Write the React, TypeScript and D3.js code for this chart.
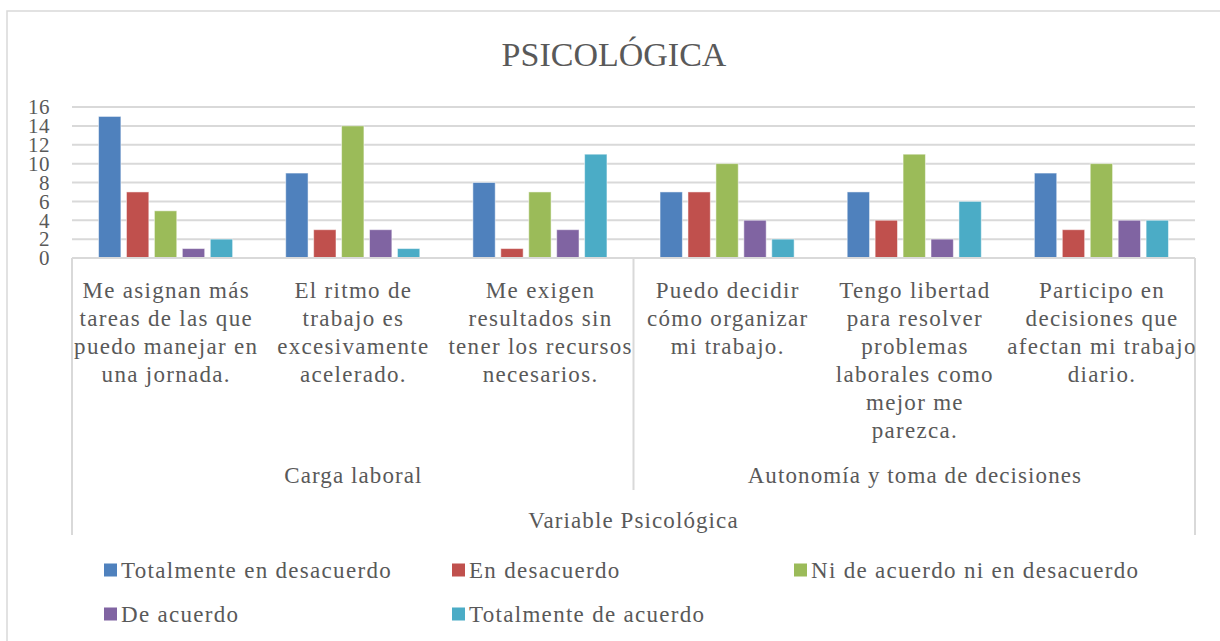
import { useEffect, useRef } from 'react';
import * as d3 from 'd3';

const categories = [
  'Me asignan más tareas de las que puedo manejar en una jornada.',
  'El ritmo de trabajo es excesivamente acelerado.',
  'Me exigen resultados sin tener los recursos necesarios.',
  'Puedo decidir cómo organizar mi trabajo.',
  'Tengo libertad para resolver problemas laborales como mejor me parezca.',
  'Participo en decisiones que afectan mi trabajo diario.',
];
// wrapped lines as drawn in the chart
const categoryLines = [
  ['Me asignan más', 'tareas de las que', 'puedo manejar en', 'una jornada.'],
  ['El ritmo de', 'trabajo es', 'excesivamente', 'acelerado.'],
  ['Me exigen', 'resultados sin', 'tener los recursos', 'necesarios.'],
  ['Puedo decidir', 'cómo organizar', 'mi trabajo.'],
  ['Tengo libertad', 'para resolver', 'problemas', 'laborales como', 'mejor me', 'parezca.'],
  ['Participo en', 'decisiones que', 'afectan mi trabajo', 'diario.'],
];
const groups = ['Carga laboral', 'Autonomía y toma de decisiones'];
const groupSizes = [3, 3];

const seriesNames = [
  'Totalmente en desacuerdo',
  'En desacuerdo',
  'Ni de acuerdo ni en desacuerdo',
  'De acuerdo',
  'Totalmente de acuerdo',
];
const totalDesacuerdo = [15, 9, 8, 7, 7, 9];
const enDesacuerdo = [7, 3, 1, 7, 4, 3];
const niNi = [5, 14, 7, 10, 11, 10];
const deAcuerdo = [1, 3, 3, 4, 2, 4];
const totalAcuerdo = [2, 1, 11, 2, 6, 4];
const seriesValues = [totalDesacuerdo, enDesacuerdo, niNi, deAcuerdo, totalAcuerdo];
const colors = ['#4F81BD', '#C0504D', '#9BBB59', '#8064A2', '#4BACC6'];
const yTicks = [0, 2, 4, 6, 8, 10, 12, 14, 16];

const W = 1220;
const H = 641;
const FONT = '"Liberation Serif", "DejaVu Serif", serif';
const TEXT = '#595959';
const LINE = '#D9D9D9';
const LS = 1.3; // letter spacing to mimic the wider Cambria glyphs

export default function App() {
  const svgRef = useRef<SVGSVGElement>(null);

  useEffect(() => {
    if (!svgRef.current) return;
    const svg = d3.select(svgRef.current);
    svg.selectAll('*').remove();

    const left = 72;
    const right = 1195;
    const top = 107;
    const bottom = 258;

    // outer chart border
    svg.append('rect')
      .attr('x', 7).attr('y', 11)
      .attr('width', W + 20).attr('height', H + 20)
      .attr('fill', 'white')
      .attr('stroke', LINE).attr('stroke-width', 1.5);

    svg.append('text')
      .attr('x', 614).attr('y', 66)
      .attr('text-anchor', 'middle')
      .attr('fill', TEXT)
      .style('font-family', FONT)
      .style('font-size', '34px')
      .text('PSICOLÓGICA');

    const y = d3.scaleLinear().domain([0, 16]).range([bottom, top]);
    const x0 = d3.scaleBand<number>()
      .domain(d3.range(categories.length))
      .range([left, right]);
    const x1 = d3.scaleBand<number>()
      .domain(d3.range(seriesNames.length))
      .range([0, x0.bandwidth()])
      .paddingInner(0.2)
      .paddingOuter(0.95);

    // gridlines
    svg.append('g').selectAll('line')
      .data(yTicks.filter(t => t > 0))
      .join('line')
      .attr('x1', left).attr('x2', right)
      .attr('y1', d => y(d)).attr('y2', d => y(d))
      .attr('stroke', LINE).attr('stroke-width', 2);

    // y tick labels
    svg.append('g').selectAll('text')
      .data(yTicks)
      .join('text')
      .attr('x', 50)
      .attr('y', d => y(d))
      .attr('dy', '0.35em')
      .attr('text-anchor', 'end')
      .attr('fill', TEXT)
      .style('font-family', FONT)
      .style('font-size', '21px')
      .style('letter-spacing', '0.5px')
      .text(d => d);

    // bars
    const barG = svg.append('g');
    seriesValues.forEach((vals, s) => {
      barG.selectAll(`rect.s${s}`)
        .data(vals)
        .join('rect')
        .attr('class', `s${s}`)
        .attr('x', (_, i) => (x0(i) ?? 0) + (x1(s) ?? 0))
        .attr('y', d => y(d))
        .attr('width', x1.bandwidth())
        .attr('height', d => bottom - y(d))
        .attr('fill', colors[s])
        .attr('stroke', 'white')
        .attr('stroke-opacity', 0.5)
        .attr('stroke-width', 1);
    });

    // category axis box
    const axisG = svg.append('g');
    axisG.append('line')
      .attr('x1', left).attr('x2', right)
      .attr('y1', bottom).attr('y2', bottom)
      .attr('stroke', LINE).attr('stroke-width', 2);
    axisG.append('line')
      .attr('x1', left).attr('x2', left)
      .attr('y1', bottom).attr('y2', 535)
      .attr('stroke', LINE).attr('stroke-width', 2);
    axisG.append('line')
      .attr('x1', right).attr('x2', right)
      .attr('y1', bottom).attr('y2', 535)
      .attr('stroke', LINE).attr('stroke-width', 2);
    const splitX = x0(groupSizes[0]) ?? 0;
    axisG.append('line')
      .attr('x1', splitX).attr('x2', splitX)
      .attr('y1', bottom).attr('y2', 490)
      .attr('stroke', LINE).attr('stroke-width', 2);

    // category labels
    categoryLines.forEach((lines, i) => {
      const cx = (x0(i) ?? 0) + x0.bandwidth() / 2 + LS / 2;
      const t = axisG.append('text')
        .attr('text-anchor', 'middle')
        .attr('fill', TEXT)
        .style('font-family', FONT)
        .style('font-size', '23px')
        .style('letter-spacing', `${LS}px`);
      lines.forEach((ln, k) => {
        t.append('tspan').attr('x', cx).attr('y', 298 + k * 28).text(ln);
      });
    });

    // group labels
    let start = 0;
    groups.forEach((g, gi) => {
      const x1p = x0(start) ?? 0;
      const x2p = (x0(start + groupSizes[gi] - 1) ?? 0) + x0.bandwidth();
      axisG.append('text')
        .attr('x', (x1p + x2p) / 2 + LS / 2).attr('y', 483)
        .attr('text-anchor', 'middle')
        .attr('fill', TEXT)
        .style('font-family', FONT)
        .style('font-size', '23px')
        .style('letter-spacing', '1.1px')
        .text(g);
      start += groupSizes[gi];
    });

    axisG.append('text')
      .attr('x', (left + right) / 2).attr('y', 528)
      .attr('text-anchor', 'middle')
      .attr('fill', TEXT)
      .style('font-family', FONT)
      .style('font-size', '23px')
      .style('letter-spacing', '1.1px')
      .text('Variable Psicológica');

    // legend
    const legendPos = [
      [104, 570], [452, 570], [794, 570],
      [104, 614], [452, 614],
    ];
    const leg = svg.append('g');
    seriesNames.forEach((name, s) => {
      const [lx, ly] = legendPos[s];
      leg.append('rect')
        .attr('x', lx).attr('y', ly - 6.5)
        .attr('width', 13).attr('height', 13)
        .attr('fill', colors[s]);
      leg.append('text')
        .attr('x', lx + 17).attr('y', ly)
        .attr('dy', '0.35em')
        .attr('fill', TEXT)
        .style('font-family', FONT)
        .style('font-size', '23px')
        .style('letter-spacing', `${LS}px`)
        .text(name);
    });
  }, []);

  return (
    <svg ref={svgRef} width={W} height={H}
      style={{ position: 'absolute', left: 0, top: 0, background: 'white' }} />
  );
}
